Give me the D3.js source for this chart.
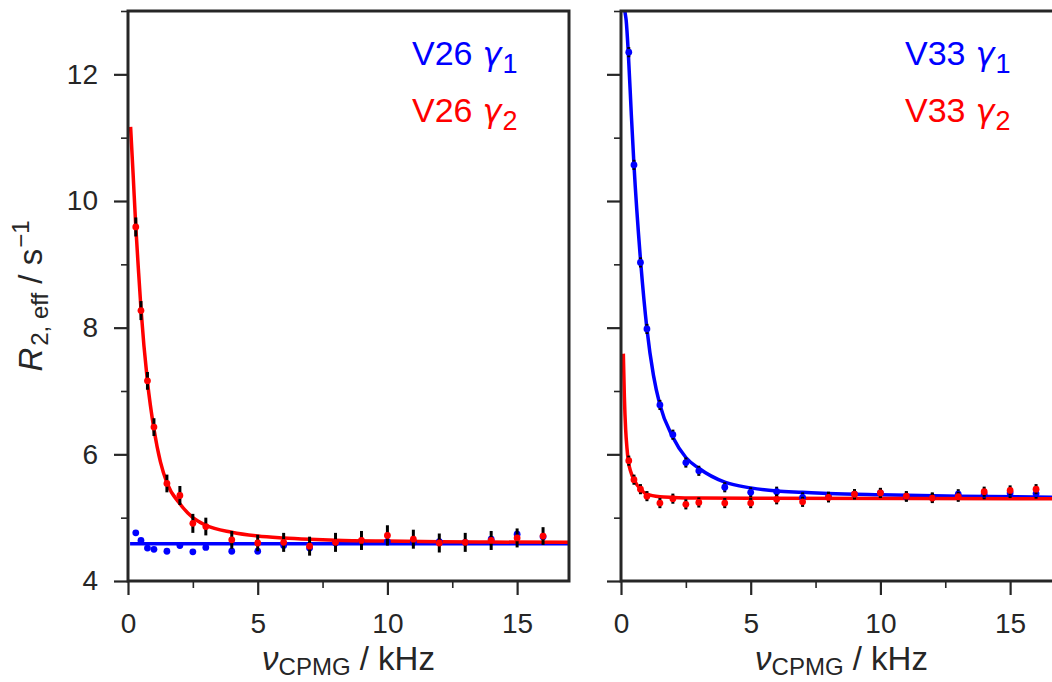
<!DOCTYPE html>
<html lang="en">
<head>
<meta charset="utf-8">
<title>R2,eff dispersion V26 / V33</title>
<script src="https://cdn.jsdelivr.net/npm/d3@7"></script>
<style>
body{margin:0;background:#fff;}
svg{display:block;font-family:"Liberation Sans",Arial,sans-serif;}
</style>
</head>
<body>
<svg id="chart"></svg>
<script>

// measured points (kHz)
var nuCPMG = [0.3, 0.5, 0.75, 1, 1.5, 2, 2.5, 3, 4, 5, 6, 7, 8, 9, 10, 11, 12, 13, 14, 15, 16];

var v26Gamma1 = [4.76, 4.64, 4.52, 4.50, 4.47, 4.56, 4.46, 4.53, 4.47, 4.47, 4.56, 4.52, 4.60, 4.62, 4.62, 4.61, 4.62, 4.61, 4.66, 4.74, 4.70];
var v26Gamma2 = [9.59, 8.27, 7.16, 6.43, 5.54, 5.35, 4.91, 4.86, 4.65, 4.60, 4.61, 4.55, 4.61, 4.64, 4.72, 4.66, 4.60, 4.61, 4.64, 4.68, 4.71];
var v26Err1 = [0.03, 0.03, 0.03, 0.03, 0.03, 0.03, 0.03, 0.03, 0.03, 0.03, 0.03, 0.03, 0.03, 0.03, 0.03, 0.03, 0.03, 0.03, 0.03, 0.03, 0.03];
var v26Err2 = [0.15, 0.15, 0.14, 0.14, 0.14, 0.15, 0.15, 0.14, 0.14, 0.13, 0.15, 0.15, 0.15, 0.15, 0.16, 0.15, 0.15, 0.15, 0.15, 0.15, 0.14];

var v33Gamma1 = [12.35, 10.57, 9.03, 7.98, 6.78, 6.31, 5.87, 5.74, 5.48, 5.40, 5.41, 5.32, 5.33, 5.37, 5.39, 5.33, 5.32, 5.37, 5.37, 5.39, 5.38];
var v33Gamma2 = [5.90, 5.60, 5.45, 5.34, 5.23, 5.30, 5.21, 5.24, 5.23, 5.23, 5.29, 5.25, 5.32, 5.37, 5.39, 5.34, 5.31, 5.33, 5.41, 5.43, 5.45];
var v33Err1 = [0.08, 0.08, 0.08, 0.08, 0.08, 0.08, 0.08, 0.08, 0.08, 0.08, 0.08, 0.08, 0.08, 0.08, 0.08, 0.08, 0.08, 0.08, 0.08, 0.08, 0.08];
var v33Err2 = [0.08, 0.08, 0.08, 0.08, 0.08, 0.08, 0.08, 0.08, 0.08, 0.08, 0.08, 0.08, 0.08, 0.08, 0.08, 0.08, 0.08, 0.08, 0.08, 0.08, 0.08];

// fitted curves
var v26FitNu1 = [0.08, 17];
var v26Fit1 = [4.59, 4.59];
var v26FitNu2 = [0.1, 0.2, 0.3, 0.4, 0.5, 0.75, 1.0, 1.25, 1.5, 2.0, 2.5, 3.0, 4.0, 5.0, 6.0, 7.0, 8.0, 10.0, 12.0, 14.0, 17.0];
var v26Fit2 = [11.17, 10.4, 9.6, 8.93, 8.3, 7.15, 6.4, 5.88, 5.55, 5.22, 5.0, 4.88, 4.77, 4.71, 4.68, 4.66, 4.645, 4.63, 4.62, 4.615, 4.61];

var v33FitNu1 = [0.1, 0.15, 0.2, 0.28, 0.4, 0.5, 0.76, 1.0, 1.25, 1.5, 2.0, 2.5, 3.0, 4.0, 5.0, 6.0, 7.0, 8.0, 10.0, 13.0, 17.0];
var v33Fit1 = [13.25, 13.0, 12.85, 12.35, 11.35, 10.57, 9.03, 7.98, 7.25, 6.78, 6.27, 5.95, 5.78, 5.56, 5.47, 5.42, 5.40, 5.38, 5.36, 5.34, 5.32];
var v33FitNu2 = [0.09, 0.13, 0.18, 0.23, 0.28, 0.38, 0.5, 0.75, 1.0, 1.5, 2.0, 3.0, 5.0, 17.0];
var v33Fit2 = [7.59, 6.91, 6.39, 6.1, 5.9, 5.72, 5.6, 5.45, 5.37, 5.33, 5.32, 5.31, 5.305, 5.30];

var xTicks = [0, 5, 10, 15];
var xMinor = [2.5, 7.5, 12.5];
var yTicks = [4, 6, 8, 10, 12];
var yMinor = [5, 7, 9, 11, 13];

var width = 1052, height = 682;
var plotTop = 11, plotBottom = 581, panelW = 441;
var ink = "#262626", blue = "#0000ff", red = "#ff0000";

var svg = d3.select("#chart").attr("width", width).attr("height", height);

var panels = [
	{left:128, name:"V26", showY:true,
	 g1:v26Gamma1, g2:v26Gamma2, e1:v26Err1, e2:v26Err2,
	 fx1:v26FitNu1, fy1:v26Fit1, fx2:v26FitNu2, fy2:v26Fit2},
	{left:621, name:"V33", showY:false,
	 g1:v33Gamma1, g2:v33Gamma2, e1:v33Err1, e2:v33Err2,
	 fx1:v33FitNu1, fy1:v33Fit1, fx2:v33FitNu2, fy2:v33Fit2}
];

var yScale = d3.scaleLinear().domain([4, 13]).range([plotBottom, plotTop]);

panels.forEach(function(p, i){
	var xScale = d3.scaleLinear().domain([0, 17]).range([p.left, p.left + panelW]);

	svg.append("clipPath").attr("id", "clip" + i)
		.append("rect")
		.attr("x", p.left).attr("y", plotTop)
		.attr("width", panelW).attr("height", plotBottom - plotTop);

	var g = svg.append("g").attr("clip-path", "url(#clip" + i + ")");

	var line = d3.line()
		.x(function(d){ return xScale(d[0]); })
		.y(function(d){ return yScale(d[1]); })
		.curve(d3.curveMonotoneX);

	var series = [
		{vals:p.g1, err:p.e1, fx:p.fx1, fy:p.fy1, color:blue},
		{vals:p.g2, err:p.e2, fx:p.fx2, fy:p.fy2, color:red}
	];

	series.forEach(function(s){
		g.append("path")
			.datum(d3.zip(s.fx, s.fy))
			.attr("d", line)
			.attr("fill", "none")
			.attr("stroke", s.color)
			.attr("stroke-width", 3.5);
	});

	series.forEach(function(s){
		var pts = nuCPMG.map(function(n, k){ return {x:n, y:s.vals[k], e:s.err[k]}; });
		g.append("g").selectAll("line")
			.data(pts)
			.enter()
			.append("line")
			.attr("x1", function(d){ return xScale(d.x); })
			.attr("x2", function(d){ return xScale(d.x); })
			.attr("y1", function(d){ return yScale(d.y - d.e); })
			.attr("y2", function(d){ return yScale(d.y + d.e); })
			.attr("stroke", "#000")
			.attr("stroke-width", 3);
		g.append("g").selectAll("circle")
			.data(pts)
			.enter()
			.append("circle")
			.attr("cx", function(d){ return xScale(d.x); })
			.attr("cy", function(d){ return yScale(d.y); })
			.attr("r", 3.4)
			.attr("fill", s.color);
	});

	// axes
	var xAxis = svg.append("g")
		.attr("transform", "translate(0," + plotBottom + ")")
		.call(d3.axisBottom(xScale).tickValues(xTicks).tickSize(14).tickPadding(18));
	var xAxisMinor = svg.append("g")
		.attr("transform", "translate(0," + plotBottom + ")")
		.call(d3.axisBottom(xScale).tickValues(xMinor).tickSize(7).tickFormat(""));
	var yAxis = svg.append("g")
		.attr("transform", "translate(" + p.left + ",0)")
		.call(d3.axisLeft(yScale).tickValues(yTicks).tickSize(14).tickPadding(16)
			.tickFormat(p.showY ? d3.format("d") : ""));
	var yAxisMinor = svg.append("g")
		.attr("transform", "translate(" + p.left + ",0)")
		.call(d3.axisLeft(yScale).tickValues(yMinor).tickSize(7).tickFormat(""));

	[xAxis, xAxisMinor, yAxis, yAxisMinor].forEach(function(a, k){
		a.select(".domain").remove();
		a.selectAll(".tick line").attr("stroke", ink).attr("stroke-width", k % 2 ? 1.6 : 2.2);
		a.selectAll("text").attr("fill", ink).style("font-size", "28px")
			.style("font-family", "'Liberation Sans', Arial, sans-serif");
	});

	// frame
	svg.append("rect")
		.attr("x", p.left).attr("y", plotTop)
		.attr("width", panelW).attr("height", plotBottom - plotTop)
		.attr("fill", "none")
		.attr("stroke", ink)
		.attr("stroke-width", 3);

	// legend text
	[1, 2].forEach(function(n, k){
		var t = svg.append("text")
			.attr("x", p.left + 284)
			.attr("y", 65 + k * 57)
			.attr("fill", n == 1 ? blue : red)
			.style("font-size", "34px");
		t.append("tspan").text(p.name);
		t.append("tspan").attr("dx", 10)
			.style("font-family", "'DejaVu Sans', sans-serif")
			.style("font-style", "italic").style("font-size", "32px").text("γ");
		t.append("tspan").attr("dy", 8).attr("dx", 1).style("font-size", "27px").text(n);
	});

	// x label
	var xl = svg.append("text")
		.attr("x", p.left + panelW / 2)
		.attr("y", 670)
		.attr("text-anchor", "middle")
		.attr("fill", ink)
		.style("font-size", "33px");
	xl.append("tspan").style("font-style", "italic").text("ν");
	xl.append("tspan").attr("dy", 5).style("font-size", "24px").text("CPMG");
	xl.append("tspan").attr("dy", -5).text(" / kHz");
});

// y label
var yl = svg.append("text")
	.attr("transform", "translate(42," + ((plotTop + plotBottom) / 2) + ") rotate(-90)")
	.attr("text-anchor", "middle")
	.attr("fill", ink)
	.style("font-size", "33px");
yl.append("tspan").style("font-style", "italic").text("R");
yl.append("tspan").attr("dy", 6).attr("dx", 2).style("font-size", "24px").text("2, eff");
yl.append("tspan").attr("dy", -6).text(" / s");
yl.append("tspan").attr("dy", -13).attr("dx", 1).style("font-size", "24px").text("−1");

</script>
</body>
</html>
